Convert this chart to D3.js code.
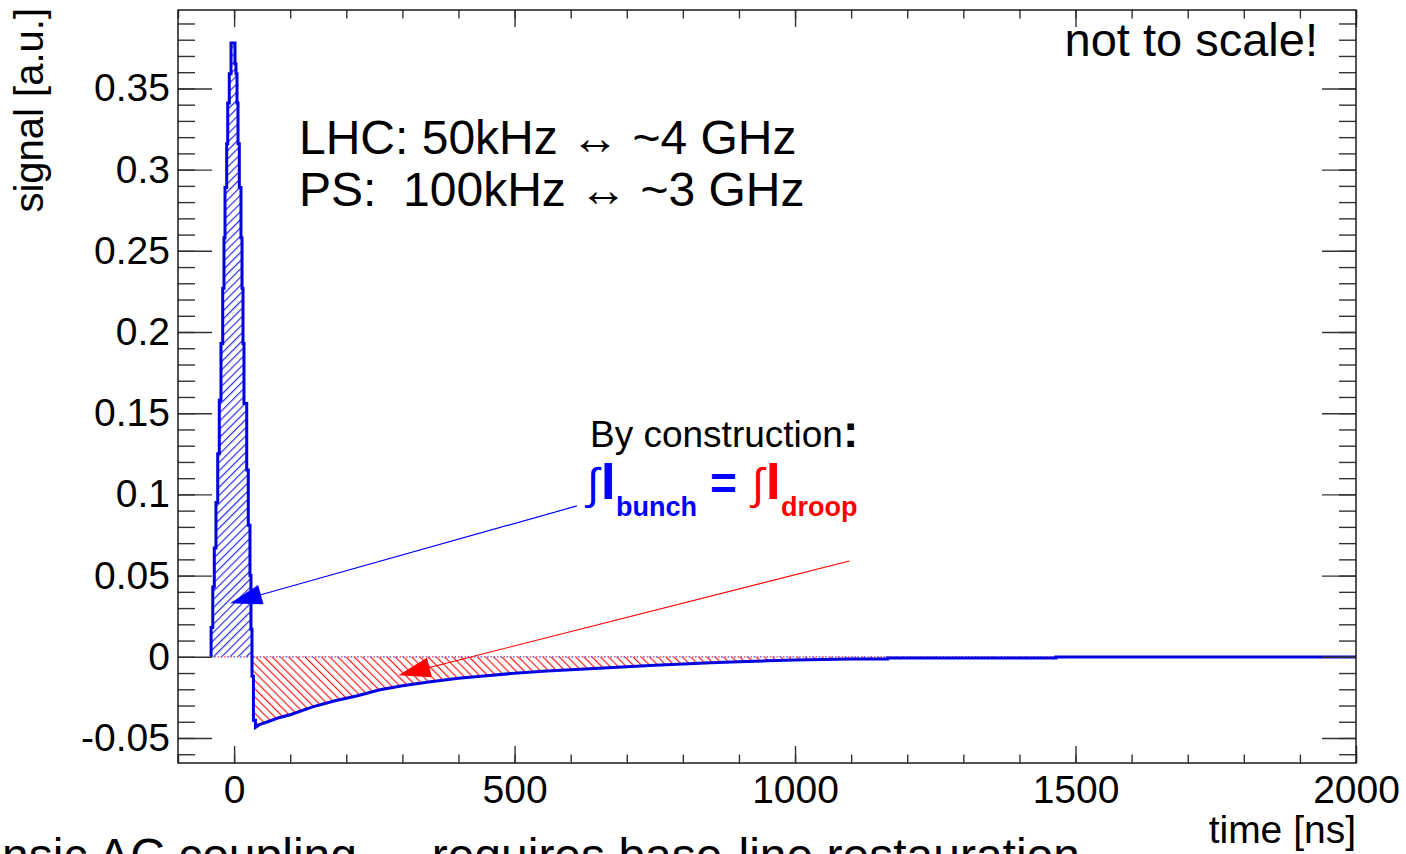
<!DOCTYPE html>
<html>
<head>
<meta charset="utf-8">
<script src="https://cdn.jsdelivr.net/npm/d3@7"></script>
<style>
  html, body { margin: 0; padding: 0; background: #fff; overflow: hidden; }
  text { font-family: "Liberation Sans", Arial, Helvetica, sans-serif; }
</style>
</head>
<body>
<div id="graph-container"></div>
<script>
// bunch peak, histogram bins (bin start in ns, signal)
var peakTimes  = [-41, -38, -35.3, -32.3, -29.2, -26.4, -23.4, -20.3, -18, -16.2, -13.2, -11.4, -8.6, -5.5,
                  1.6, 3.4, 5.2, 7.0, 9.3, 12.3, 14.1, 15.9, 17.6, 22.5, 25.3, 28.3, 30.1, 31.9, 34.5];
var peakValues = [0.018, 0.043, 0.067, 0.095, 0.125, 0.158, 0.193, 0.227, 0.258, 0.289, 0.316, 0.341, 0.359, 0.378,
                  0.365, 0.359, 0.341, 0.316, 0.289, 0.258, 0.227, 0.193, 0.156, 0.115, 0.081, 0.050, 0.017, -0.012, -0.039];

// droop after the bunch
var droopTimes  = [38, 45, 60, 80, 100, 140, 180, 220, 260, 300, 350, 400, 450, 500, 550, 600,
                   650, 700, 750, 800, 850, 900, 950, 1000, 1050, 1100];
var droopValues = [-0.0435, -0.0418, -0.0400, -0.0375, -0.0357, -0.0308, -0.0271, -0.0240, -0.0203, -0.0178,
                   -0.0154, -0.0132, -0.0117, -0.0101, -0.0089, -0.0080, -0.0071, -0.0062, -0.0052, -0.0044,
                   -0.0037, -0.0031, -0.0025, -0.0020, -0.0016, -0.0013];

// flat end, coarse steps
var flatTimes  = [1100, 1165, 1465];
var flatValues = [-0.0013, -0.0008, -0.0002];

var xTicks = [0, 500, 1000, 1500, 2000];
var xTickLabels = ["0", "500", "1000", "1500", "2000"];
var yTicks = [-0.05, 0, 0.05, 0.1, 0.15, 0.2, 0.25, 0.3, 0.35];
var yTickLabels = ["-0.05", "0", "0.05", "0.1", "0.15", "0.2", "0.25", "0.3", "0.35"];

// annotation arrows [time, signal]
var blueArrow = [[611, 0.0929], [-7.3, 0.0329]];
var redArrow  = [[1097, 0.059], [293, -0.0114]];

var width = 1406, height = 854;
var graphContainer = d3.select("#graph-container");

var svg = graphContainer.append("svg")
  .attr("width", width)
  .attr("height", height)
  .style("display", "block")
  .style("background", "#fff");

var x = d3.scaleLinear().domain([-100, 2000]).range([178, 1356]);
var y = d3.scaleLinear().domain([-0.0654, 0.3983]).range([763, 10]);

var x0 = x.range()[0], x1 = x.range()[1], yb = y.range()[0], yt = y.range()[1];

// hatch patterns
var defs = svg.append("defs");
function hatch(id, angle, color) {
  defs.append("pattern")
    .attr("id", id)
    .attr("patternUnits", "userSpaceOnUse")
    .attr("width", 5.8)
    .attr("height", 5.8)
    .attr("patternTransform", "rotate(" + angle + ")")
    .append("line")
    .attr("x1", 0.6).attr("y1", 0).attr("x2", 0.6).attr("y2", 5.8)
    .attr("stroke", color)
    .attr("stroke-width", 1.2);
}
hatch("hatchBlue", 45, "#2a2aee");
hatch("hatchRed", -45, "#ff1a1a");

defs.append("clipPath").attr("id", "clipUp")
  .append("rect").attr("x", x0).attr("y", yt).attr("width", x1 - x0).attr("height", y(0) - yt);
defs.append("clipPath").attr("id", "clipDown")
  .append("rect").attr("x", x0).attr("y", y(0)).attr("width", x1 - x0).attr("height", yb - y(0));

// turn bins into outline points
function stepPoints(times, values, end) {
  var pts = [];
  times.forEach(function (t, i) {
    var tEnd = i < times.length - 1 ? times[i + 1] : end;
    pts.push([t, values[i]], [tEnd, values[i]]);
  });
  return pts;
}

var points = [[peakTimes[0], 0]]
  .concat(stepPoints(peakTimes, peakValues, droopTimes[0]))
  .concat(droopTimes.map(function (t, i) { return [t, droopValues[i]]; }))
  .concat(stepPoints(flatTimes, flatValues, 2000));

var area = d3.area()
  .x(function (d) { return x(d[0]); })
  .y0(y(0))
  .y1(function (d) { return y(d[1]); });

var line = d3.line()
  .x(function (d) { return x(d[0]); })
  .y(function (d) { return y(d[1]); });

svg.append("path")
  .attr("d", area(points))
  .attr("fill", "url(#hatchBlue)")
  .attr("clip-path", "url(#clipUp)");

svg.append("path")
  .attr("d", area(points))
  .attr("fill", "url(#hatchRed)")
  .attr("clip-path", "url(#clipDown)");

// dotted base line of the fills
svg.append("line")
  .attr("x1", x(peakTimes[0])).attr("x2", x1)
  .attr("y1", y(0)).attr("y2", y(0))
  .attr("stroke", "#ff3333").attr("stroke-width", 1.3)
  .attr("stroke-dasharray", "1.5,5");
svg.append("line")
  .attr("x1", x(peakTimes[0]) + 3).attr("x2", x1)
  .attr("y1", y(0)).attr("y2", y(0))
  .attr("stroke", "#3a3aff").attr("stroke-width", 1.3)
  .attr("stroke-dasharray", "1.5,5");

svg.append("path")
  .attr("d", line(points))
  .attr("fill", "none")
  .attr("stroke", "#0000e0")
  .attr("stroke-width", 3)
  .attr("stroke-linejoin", "miter");

// axes, ticks inward like ROOT
function styleAxis(g) {
  g.select(".domain").remove();
  g.selectAll(".tick line").attr("stroke", "#333").attr("stroke-width", 1.4);
  g.selectAll(".tick text")
    .attr("fill", "#000")
    .style("font-size", "39px")
    .style("font-family", "'Liberation Sans', Arial, sans-serif");
}

var yMinor = d3.range(-6, 40).map(function (v) { return v / 100; });
var xMinor = d3.range(-1, 21).map(function (v) { return v * 100; });

svg.append("g").attr("transform", "translate(" + x0 + ",0)")
  .call(d3.axisLeft(y).tickValues(yMinor).tickSize(-17).tickFormat(""))
  .call(styleAxis);
svg.append("g").attr("transform", "translate(" + x0 + ",0)")
  .call(d3.axisLeft(y).tickValues(yTicks).tickSize(-34).tickPadding(8)
    .tickFormat(function (d, i) { return yTickLabels[i]; }))
  .call(styleAxis);

svg.append("g").attr("transform", "translate(" + x1 + ",0)")
  .call(d3.axisRight(y).tickValues(yMinor).tickSize(-17).tickFormat(""))
  .call(styleAxis);
svg.append("g").attr("transform", "translate(" + x1 + ",0)")
  .call(d3.axisRight(y).tickValues(yTicks).tickSize(-34).tickFormat(""))
  .call(styleAxis);

svg.append("g").attr("transform", "translate(0," + yb + ")")
  .call(d3.axisBottom(x).tickValues(xMinor).tickSize(-8.5).tickFormat(""))
  .call(styleAxis);
svg.append("g").attr("transform", "translate(0," + yb + ")")
  .call(d3.axisBottom(x).tickValues(xTicks).tickSize(-17).tickPadding(12)
    .tickFormat(function (d, i) { return xTickLabels[i]; }))
  .call(styleAxis);

svg.append("g").attr("transform", "translate(0," + yt + ")")
  .call(d3.axisTop(x).tickValues(xMinor).tickSize(-8.5).tickFormat(""))
  .call(styleAxis);
svg.append("g").attr("transform", "translate(0," + yt + ")")
  .call(d3.axisTop(x).tickValues(xTicks).tickSize(-17).tickFormat(""))
  .call(styleAxis);

// frame
svg.append("rect")
  .attr("x", x0).attr("y", yt)
  .attr("width", x1 - x0).attr("height", yb - yt)
  .attr("fill", "none")
  .attr("stroke", "#1a1a1a")
  .attr("stroke-width", 1.5);

// arrows
function drawArrow(a, color, lw) {
  var sx = x(a[0][0]), sy = y(a[0][1]), tx = x(a[1][0]), ty = y(a[1][1]);
  var dx = tx - sx, dy = ty - sy, l = Math.sqrt(dx * dx + dy * dy);
  var ux = dx / l, uy = dy / l, len = 32, hw = 10;
  var bx = tx - ux * len, by = ty - uy * len;
  svg.append("line")
    .attr("x1", sx).attr("y1", sy).attr("x2", bx).attr("y2", by)
    .attr("stroke", color).attr("stroke-width", lw);
  svg.append("polygon")
    .attr("points", [[tx, ty], [bx - uy * hw, by + ux * hw], [bx + uy * hw, by - ux * hw]].join(" "))
    .attr("fill", color);
}
drawArrow(blueArrow, "#0000ff", 1.2);
drawArrow(redArrow, "#ff0000", 1.1);

// axis titles
svg.append("text")
  .attr("x", 1356).attr("y", 843)
  .attr("text-anchor", "end")
  .style("font-size", "39px")
  .text("time [ns]");

svg.append("text")
  .attr("transform", "translate(43,8) rotate(-90)")
  .attr("text-anchor", "end")
  .style("font-size", "40px")
  .text("signal [a.u.]");

// annotations
svg.append("text")
  .attr("x", 1318).attr("y", 56)
  .attr("text-anchor", "end")
  .style("font-size", "47px")
  .text("not to scale!");

svg.append("text")
  .attr("x", 299).attr("y", 154)
  .style("font-size", "48px")
  .style("white-space", "pre")
  .text("LHC: 50kHz \u2194 ~4 GHz");

svg.append("text")
  .attr("x", 299).attr("y", 206)
  .style("font-size", "48px")
  .style("white-space", "pre")
  .text("PS:  100kHz \u2194 ~3 GHz");

var bc = svg.append("text")
  .attr("x", 590).attr("y", 447)
  .style("font-size", "37px");
bc.append("tspan").text("By construction");
bc.append("tspan").style("font-weight", "bold").style("font-size", "46px").text(":");

function piece(tx, ty, size, bold, color, str) {
  svg.append("text")
    .attr("x", tx).attr("y", ty)
    .style("font-size", size + "px")
    .style("font-weight", bold ? "bold" : "normal")
    .attr("fill", color)
    .text(str);
}
piece(587, 499, 44, false, "#0000ff", "\u222B");
piece(601, 499, 52, true, "#0000ff", "I");
piece(616, 516, 27, true, "#0000ff", "bunch");
piece(710, 499, 46, true, "#0000ff", "=");
piece(752, 499, 44, false, "#ff0000", "\u222B");
piece(766, 499, 52, true, "#ff0000", "I");
piece(781, 516, 27, true, "#ff0000", "droop");

// cut-off caption at the bottom
svg.append("text")
  .attr("x", 1080).attr("y", 872)
  .attr("text-anchor", "end")
  .style("font-size", "48px")
  .text("Intrinsic AC coupling \u2192 requires base-line restauration");
</script>
</body>
</html>
